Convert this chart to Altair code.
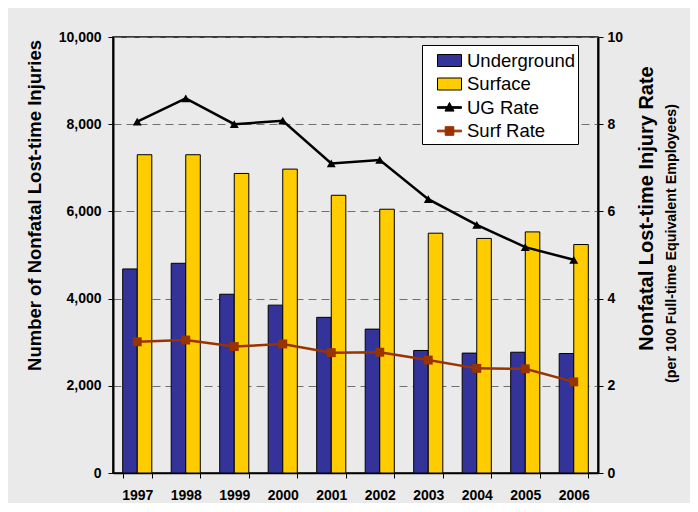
import altair as alt
import pandas as pd

years = ["1997", "1998", "1999", "2000", "2001", "2002", "2003", "2004", "2005", "2006"]
underground = [4680, 4810, 4100, 3850, 3570, 3300, 2810, 2750, 2770, 2740]
surface = [7300, 7300, 6870, 6970, 6370, 6050, 5500, 5380, 5530, 5240]
ug_rate = [8.06, 8.59, 8.00, 8.08, 7.10, 7.18, 6.28, 5.69, 5.18, 4.89]
surf_rate = [3.01, 3.05, 2.90, 2.96, 2.76, 2.77, 2.59, 2.40, 2.39, 2.09]

bar_series = ["Underground", "Surface"]
rate_series = ["UG Rate", "Surf Rate"]
all_series = bar_series + rate_series
bar_colors = ["#333399", "#FFCC00"]
rate_colors = ["#000000", "#993300"]
count_ticks = [0, 2000, 4000, 6000, 8000, 10000]
rate_ticks = [0, 2, 4, 6, 8, 10]

left_title = "Number of Nonfatal Lost-time Injuries"
right_title = "Nonfatal Lost-time Injury Rate"
right_subtitle = "(per 100 Full-time Equivalent Employees)"

FONT = "Liberation Sans"

bar_df = pd.DataFrame({
    "year": years * 2,
    "series": [bar_series[0]] * len(years) + [bar_series[1]] * len(years),
    "count": underground + surface,
})
rate_df = pd.DataFrame({
    "year": years * 2,
    "series": [rate_series[0]] * len(years) + [rate_series[1]] * len(years),
    "rate": ug_rate + surf_rate,
})
legend_df = pd.DataFrame({"series": all_series})

x_enc = alt.X(
    "year:N",
    sort=years,
    scale=alt.Scale(paddingInner=0.4, paddingOuter=0.2),
    axis=alt.Axis(
        title=None, labelAngle=0, tickBand="extent", tickSize=5, tickColor="black",
        domainColor="black", domainWidth=1.5, labelPadding=10,
        labelFont=FONT, labelFontSize=14, labelFontWeight="bold", labelColor="black",
    ),
)

bars = alt.Chart(bar_df).mark_bar(stroke="black", strokeWidth=1).encode(
    x=x_enc,
    xOffset=alt.XOffset("series:N", sort=bar_series,
                        scale=alt.Scale(domain=bar_series, paddingInner=0, paddingOuter=0)),
    y=alt.Y(
        "count:Q",
        scale=alt.Scale(domain=[0, 10000], nice=False),
        axis=alt.Axis(
            orient="left", values=count_ticks, format=",.0f", title=left_title,
            grid=True, gridColor="#707070", gridDash=[8, 5], gridWidth=1,
            tickSize=5, tickColor="black", domainColor="black", domainWidth=2,
            labelPadding=7, labelFont=FONT, labelFontSize=14, labelFontWeight="bold",
            labelColor="black", titleFont=FONT, titleFontSize=18.5, titleFontWeight="bold",
            titleColor="black", titlePadding=14, titleY=168,
        ),
    ),
    color=alt.Color("series:N", sort=bar_series,
                    scale=alt.Scale(domain=bar_series, range=bar_colors), legend=None),
)

lines = alt.Chart(rate_df).mark_line(strokeWidth=2.5).encode(
    x=alt.X("year:N", sort=years),
    y=alt.Y(
        "rate:Q",
        scale=alt.Scale(domain=[0, 10], nice=False),
        axis=alt.Axis(
            orient="right", values=rate_ticks, format="d", title=right_title, grid=False,
            tickSize=5, tickColor="black", domainColor="black", domainWidth=2,
            labelPadding=4, labelFont=FONT, labelFontSize=14, labelFontWeight="bold",
            labelColor="black", titleFont=FONT, titleFontSize=20, titleFontWeight="bold",
            titleColor="black", titleAngle=270, titleBaseline="top", titlePadding=14,
            titleY=171,
        ),
    ),
    color=alt.Color("series:N", sort=rate_series,
                    scale=alt.Scale(domain=rate_series, range=rate_colors), legend=None),
)

points = alt.Chart(rate_df).mark_point(filled=True, opacity=1, size=80).encode(
    x=alt.X("year:N", sort=years),
    y=alt.Y(
        "rate:Q",
        scale=alt.Scale(domain=[0, 10], nice=False),
        axis=alt.Axis(
            orient="right", labels=False, ticks=False, domain=False, grid=False,
            title=right_subtitle, titleFont=FONT, titleFontSize=14.3, titleFontWeight="bold",
            titleColor="black", titleAngle=270, titleBaseline="top", titlePadding=66,
            titleY=206,
        ),
    ),
    color=alt.Color("series:N", sort=rate_series,
                    scale=alt.Scale(domain=rate_series, range=rate_colors), legend=None),
    shape=alt.Shape("series:N", sort=rate_series,
                    scale=alt.Scale(domain=rate_series, range=["triangle-up", "square"]),
                    legend=None),
)

rect_sym = "M-1,-0.5H1V0.5H-1Z"
ug_sym = "M-1,-0.07H1V0.07H-1Z M0,-0.42L0.38,0.3H-0.38Z"
surf_sym = "M-1,-0.07H1V0.07H-1Z M-0.36,-0.36H0.36V0.36H-0.36Z"

leg_props = dict(
    title=None, orient="none", legendX=309, legendY=8,
    fillColor="white", strokeColor="black", padding=3,
    symbolSize=576, symbolStrokeWidth=1, symbolOpacity=1, symbolOffset=12,
    labelFont=FONT, labelFontSize=18.5, labelColor="black", labelOffset=5,
    rowPadding=1.5,
)

legend_layer = alt.Chart(legend_df).mark_point(filled=True, opacity=0).encode(
    fill=alt.Fill("series:N", sort=all_series,
                  scale=alt.Scale(domain=all_series, range=bar_colors + rate_colors),
                  legend=alt.Legend(**leg_props)),
    stroke=alt.Stroke("series:N", sort=all_series,
                      scale=alt.Scale(domain=all_series,
                                      range=["black", "black", "black", "#993300"]),
                      legend=alt.Legend(**leg_props)),
    shape=alt.Shape("series:N", sort=all_series,
                    scale=alt.Scale(domain=all_series,
                                    range=[rect_sym, rect_sym, ug_sym, surf_sym]),
                    legend=alt.Legend(**leg_props)),
)

chart = alt.layer(bars, lines, points, legend_layer).resolve_scale(
    y="independent", color="independent", fill="independent",
    stroke="independent", shape="independent",
).properties(
    width=485, height=436,
    autosize=alt.AutoSizeParams(type="none"),
    padding={"left": 105, "top": 29, "right": 92, "bottom": 30},
    background="#eaeaea",
).configure_view(
    stroke="black", strokeWidth=1.5, fill="white",
).configure_legend(
    strokeWidth=1,
)

chart.save("out.html", embed_options={"renderer": "svg", "actions": False})
